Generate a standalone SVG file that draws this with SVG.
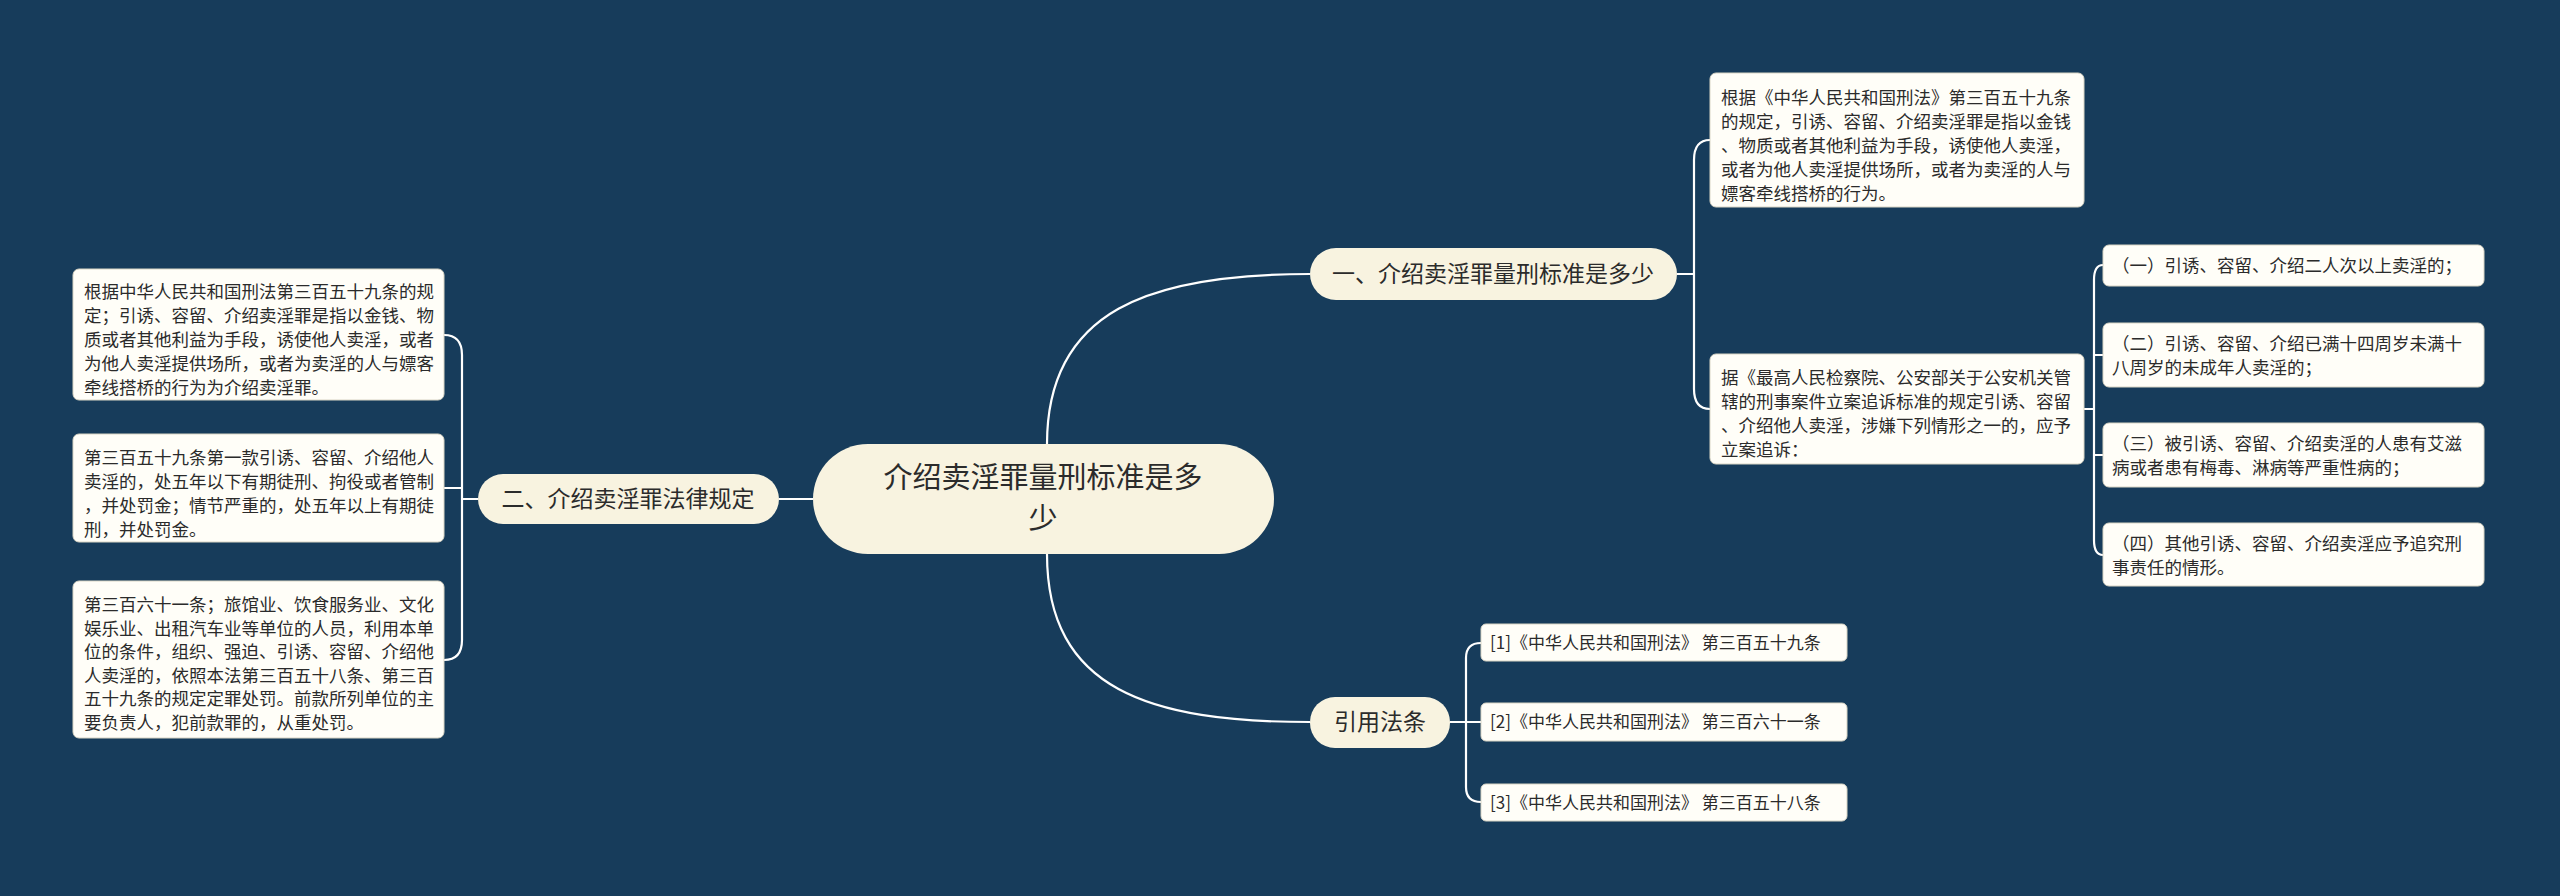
<svg xmlns="http://www.w3.org/2000/svg" width="2560" height="896" viewBox="0 0 2560 896">
<style>
text{font-family:"Noto Sans CJK SC","Liberation Sans",sans-serif;fill:#2b2b2b}
.leaf{fill:#fffef8;stroke:#d9d5c5;stroke-width:1}
.br{fill:#f8f3e0}
.t{font-size:17.5px}
.b{font-size:23px}
.c{fill:none;stroke:#ffffff;stroke-width:2.2}
</style>
<rect width="2560" height="896" fill="#173c5b"/>
<g id="connectors">
<path class="c" d="M1047,444 C1047,310 1150,274 1310,274"/>
<path class="c" d="M1047,554 C1047,690 1150,722 1310,722"/>
<path class="c" d="M813,499 L779,499"/>
<path class="c" d="M1677,274 L1694,274 M1710,140 Q1694,140 1694,160 L1694,389 Q1694,409 1710,409"/>
<path class="c" d="M2084,409 L2094,409 M2103,265 Q2094,265 2094,280 L2094,540 Q2094,555 2103,555 M2094,355 Q2094,355 2103,355 M2094,455 L2103,455"/>
<path class="c" d="M478,499 L462,499 M444,335 Q462,335 462,355 L462,640 Q462,660 444,660 M462,488 L444,488"/>
<path class="c" d="M1450,722 L1466,722 M1481,643 Q1466,643 1466,658 L1466,787 Q1466,802 1481,802 M1466,722 L1481,722"/>
</g>
<g id="root">
<rect x="813" y="444" width="461" height="110" rx="55" class="br"/>
<text x="1043" y="488" font-size="29" text-anchor="middle">介绍卖淫罪量刑标准是多</text>
<text x="1043" y="529" font-size="29" text-anchor="middle">少</text>
</g>
<g id="b1"><rect x="1310" y="248" width="367" height="52" rx="26" class="br"/><text x="1493" y="282" class="b" text-anchor="middle">一、介绍卖淫罪量刑标准是多少</text></g>
<g id="b2"><rect x="478" y="474" width="301" height="50" rx="25" class="br"/><text x="628" y="507" class="b" text-anchor="middle">二、介绍卖淫罪法律规定</text></g>
<g id="b3"><rect x="1310" y="697" width="140" height="51" rx="25" class="br"/><text x="1380" y="730" class="b" text-anchor="middle">引用法条</text></g>
<g id="l1"><rect x="1710" y="73" width="374" height="134" rx="6" class="leaf"/>
<text class="t" x="1721" y="104"><tspan x="1721">根据《中华人民共和国刑法》第三百五十九条</tspan><tspan x="1721" dy="24">的规定，引诱、容留、介绍卖淫罪是指以金钱</tspan><tspan x="1721" dy="24">、物质或者其他利益为手段，诱使他人卖淫，</tspan><tspan x="1721" dy="24">或者为他人卖淫提供场所，或者为卖淫的人与</tspan><tspan x="1721" dy="24">嫖客牵线搭桥的行为。</tspan></text></g>
<g id="l2"><rect x="1710" y="354" width="374" height="110" rx="6" class="leaf"/>
<text class="t" x="1721" y="384"><tspan x="1721">据《最高人民检察院、公安部关于公安机关管</tspan><tspan x="1721" dy="24">辖的刑事案件立案追诉标准的规定引诱、容留</tspan><tspan x="1721" dy="24">、介绍他人卖淫，涉嫌下列情形之一的，应予</tspan><tspan x="1721" dy="24">立案追诉：</tspan></text></g>
<g id="s1"><rect x="2103" y="245" width="381" height="41" rx="6" class="leaf"/><text class="t" x="2112" y="272">（一）引诱、容留、介绍二人次以上卖淫的；</text></g>
<g id="s2"><rect x="2103" y="323" width="381" height="64" rx="6" class="leaf"/><text class="t" x="2112" y="350"><tspan x="2112">（二）引诱、容留、介绍已满十四周岁未满十</tspan><tspan x="2112" dy="24">八周岁的未成年人卖淫的；</tspan></text></g>
<g id="s3"><rect x="2103" y="423" width="381" height="64" rx="6" class="leaf"/><text class="t" x="2112" y="450"><tspan x="2112">（三）被引诱、容留、介绍卖淫的人患有艾滋</tspan><tspan x="2112" dy="24">病或者患有梅毒、淋病等严重性病的；</tspan></text></g>
<g id="s4"><rect x="2103" y="523" width="381" height="63" rx="6" class="leaf"/><text class="t" x="2112" y="550"><tspan x="2112">（四）其他引诱、容留、介绍卖淫应予追究刑</tspan><tspan x="2112" dy="24">事责任的情形。</tspan></text></g>
<g id="ll1"><rect x="73" y="269" width="371" height="131" rx="6" class="leaf"/>
<text class="t" x="84" y="298"><tspan x="84">根据中华人民共和国刑法第三百五十九条的规</tspan><tspan x="84" dy="24">定；引诱、容留、介绍卖淫罪是指以金钱、物</tspan><tspan x="84" dy="24">质或者其他利益为手段，诱使他人卖淫，或者</tspan><tspan x="84" dy="24">为他人卖淫提供场所，或者为卖淫的人与嫖客</tspan><tspan x="84" dy="24">牵线搭桥的行为为介绍卖淫罪。</tspan></text></g>
<g id="ll2"><rect x="73" y="434" width="371" height="108" rx="6" class="leaf"/>
<text class="t" x="84" y="464"><tspan x="84">第三百五十九条第一款引诱、容留、介绍他人</tspan><tspan x="84" dy="24">卖淫的，处五年以下有期徒刑、拘役或者管制</tspan><tspan x="84" dy="24">，并处罚金；情节严重的，处五年以上有期徒</tspan><tspan x="84" dy="24">刑，并处罚金。</tspan></text></g>
<g id="ll3"><rect x="73" y="581" width="371" height="157" rx="6" class="leaf"/>
<text class="t" x="84" y="611"><tspan x="84">第三百六十一条；旅馆业、饮食服务业、文化</tspan><tspan x="84" dy="23.5">娱乐业、出租汽车业等单位的人员，利用本单</tspan><tspan x="84" dy="23.5">位的条件，组织、强迫、引诱、容留、介绍他</tspan><tspan x="84" dy="23.5">人卖淫的，依照本法第三百五十八条、第三百</tspan><tspan x="84" dy="23.5">五十九条的规定定罪处罚。前款所列单位的主</tspan><tspan x="84" dy="23.5">要负责人，犯前款罪的，从重处罚。</tspan></text></g>
<g id="r1"><rect x="1481" y="624" width="366" height="37" rx="5" class="leaf"/><text x="1490" y="649" font-size="17">[1]《中华人民共和国刑法》 第三百五十九条</text></g>
<g id="r2"><rect x="1481" y="703" width="366" height="38" rx="5" class="leaf"/><text x="1490" y="728" font-size="17">[2]《中华人民共和国刑法》 第三百六十一条</text></g>
<g id="r3"><rect x="1481" y="784" width="366" height="37" rx="5" class="leaf"/><text x="1490" y="809" font-size="17">[3]《中华人民共和国刑法》 第三百五十八条</text></g>
</svg>
